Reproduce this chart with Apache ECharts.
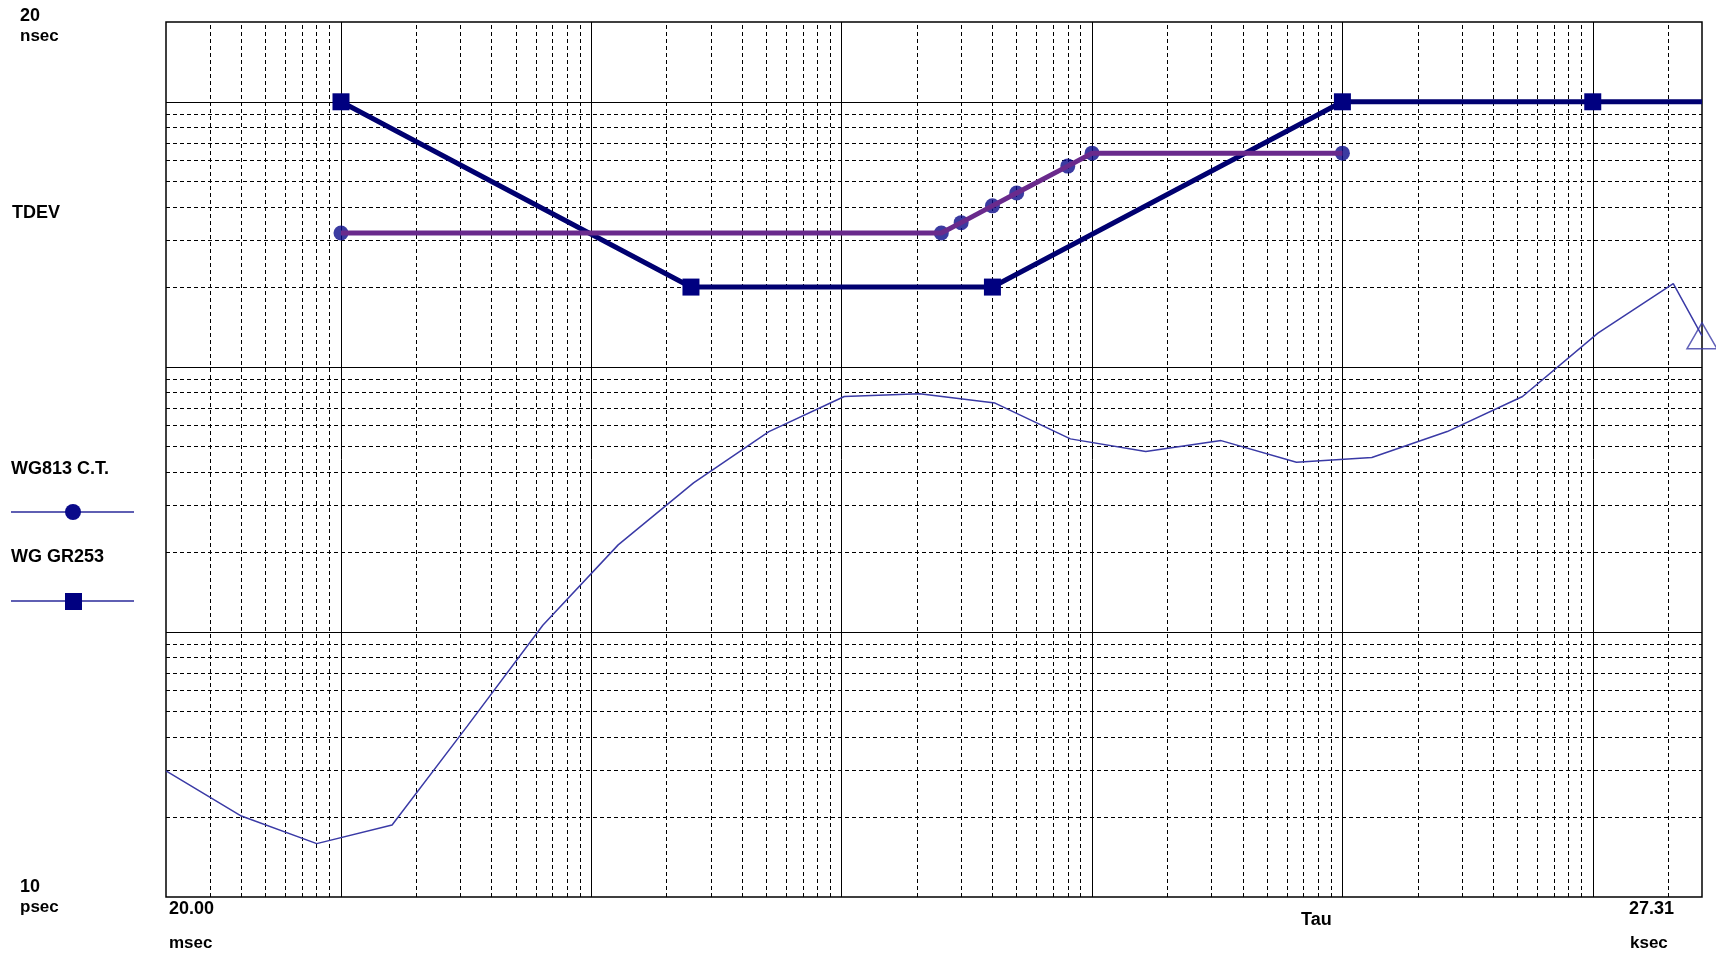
<!DOCTYPE html>
<html>
<head>
<meta charset="utf-8">
<script src="https://cdn.jsdelivr.net/npm/echarts@6/dist/echarts.min.js"></script>
<style>
  html, body { margin: 0; padding: 0; background: #fff; }
  #chart { width: 1716px; height: 954px; }
</style>
</head>
<body>
<div id="chart"></div>
<script>
// tau in seconds, TDEV in seconds
const measTau = [0.02, 0.04, 0.08, 0.16, 0.32, 0.64, 1.28, 2.56, 5.12, 10.24, 20.48,
  40.96, 81.92, 163.84, 327.68, 655.36, 1310.72, 2621.44, 5242.88, 10485.76, 20971.52, 27310];
const measTdev = [29.9e-12, 20.2e-12, 15.9e-12, 18.7e-12, 44.2e-12, 106e-12, 213e-12, 365e-12,
  570e-12, 773e-12, 791e-12, 730e-12, 535e-12, 479e-12, 527e-12, 437e-12, 455e-12,
  570e-12, 773e-12, 1.34e-9, 2.06e-9, 1.31e-9];

const g813Tau = [0.1, 25, 30, 40, 50, 80, 100, 1000];
const g813Tdev = [3.2e-9, 3.2e-9, 3.5e-9, 4.05e-9, 4.53e-9, 5.72e-9, 6.4e-9, 6.4e-9];

const gr253Tau = [0.1, 2.5, 40, 1000, 10000, 27310];
const gr253Tdev = [10e-9, 2e-9, 2e-9, 10e-9, 10e-9, 10e-9];

const xMin = 0.02, xMax = 27310;
const yMin = 1e-11, yMax = 2e-8;

const xMajor = [0.1, 1, 10, 100, 1000, 10000];
const yMajor = [1e-10, 1e-9, 1e-8];

// dashed minor lines at 2..9 of every decade inside the range
function minors(lo, hi) {
  const out = [];
  for (let e = Math.floor(Math.log10(lo)); e <= Math.ceil(Math.log10(hi)); e++) {
    for (let m = 2; m <= 9; m++) {
      const v = m * Math.pow(10, e);
      if (v > lo * 1.0001 && v < hi * 0.9999) out.push(+v.toPrecision(3));
    }
  }
  return out;
}
const xMinor = minors(xMin, xMax);
const yMinor = minors(yMin, yMax);

const zip = (a, b) => a.map((v, i) => [v, b[i]]);
const vLines = xs => xs.map(v => ({ coords: [[v, yMin], [v, yMax]] }));
const hLines = ys => ys.map(v => ({ coords: [[xMin, v], [xMax, v]] }));

const chart = echarts.init(document.getElementById('chart'));

const font = 'bold 18px "Liberation Sans", Arial, sans-serif';
const fontSmall = 'bold 17px "Liberation Sans", Arial, sans-serif';
function label(text, x, y, f) {
  return { type: 'text', x: x, y: y, style: { text: text, font: f || font, fill: '#000', textVerticalAlign: 'middle' } };
}

const gr253Data = zip(gr253Tau, gr253Tdev).map((p, i) =>
  i === gr253Tau.length - 1 ? { value: p, symbol: 'none' } : p);

chart.setOption({
  animation: false,
  grid: { left: 166, top: 22, width: 1536, height: 875, show: true, borderColor: '#000', borderWidth: 1.5 },
  xAxis: {
    type: 'log', logBase: 10, min: xMin, max: xMax,
    axisLine: { show: false }, axisTick: { show: false }, axisLabel: { show: false },
    splitLine: { show: false }
  },
  yAxis: {
    type: 'log', logBase: 10, min: yMin, max: yMax,
    axisLine: { show: false }, axisTick: { show: false }, axisLabel: { show: false },
    splitLine: { show: false }
  },
  series: [{
    name: 'minor grid',
    type: 'lines',
    coordinateSystem: 'cartesian2d',
    silent: true,
    z: 1,
    lineStyle: { color: '#000', width: 1, type: [4, 3], opacity: 1 },
    data: vLines(xMinor).concat(hLines(yMinor))
  }, {
    name: 'major grid',
    type: 'lines',
    coordinateSystem: 'cartesian2d',
    silent: true,
    z: 1,
    lineStyle: { color: '#000', width: 1, type: 'solid', opacity: 1 },
    data: vLines(xMajor).concat(hLines(yMajor))
  }, {
    name: 'measured',
    type: 'line',
    data: zip(measTau, measTdev),
    symbol: 'none',
    lineStyle: { color: '#3a3aa6', width: 1.5 },
    z: 3
  }, {
    name: 'measured end',
    type: 'scatter',
    data: [[measTau[measTau.length - 1], measTdev[measTdev.length - 1]]],
    symbol: 'triangle',
    symbolSize: [30, 26],
    clip: false,
    itemStyle: { color: 'rgba(0,0,0,0)', borderColor: '#3a3aa6', borderWidth: 1.5 },
    z: 3
  }, {
    name: 'WG GR253',
    type: 'line',
    data: gr253Data,
    symbol: 'rect',
    symbolSize: 17,
    lineStyle: { color: '#000070', width: 5 },
    itemStyle: { color: '#000080' },
    z: 4
  }, {
    name: 'WG813 C.T. marks',
    type: 'scatter',
    data: zip(g813Tau, g813Tdev),
    symbol: 'circle',
    symbolSize: 15,
    itemStyle: { color: '#0a0a8a' },
    z: 5
  }, {
    name: 'WG813 C.T.',
    type: 'line',
    data: zip(g813Tau, g813Tdev),
    symbol: 'none',
    lineStyle: { color: '#6a2a8c', width: 5 },
    z: 6
  }],
  graphic: [
    label('20', 20, 16),
    label('nsec', 20, 36, fontSmall),
    label('TDEV', 12, 213),
    label('WG813 C.T.', 11, 469),
    { type: 'line', shape: { x1: 11, y1: 512, x2: 134, y2: 512 }, style: { stroke: '#2a2a9a', lineWidth: 1.5 } },
    { type: 'circle', shape: { cx: 73, cy: 512, r: 8 }, style: { fill: '#0a0a8a' } },
    label('WG GR253', 11, 557),
    { type: 'line', shape: { x1: 11, y1: 601, x2: 134, y2: 601 }, style: { stroke: '#2a2a9a', lineWidth: 1.5 } },
    { type: 'rect', shape: { x: 65, y: 593, width: 17, height: 17 }, style: { fill: '#000080' } },
    label('10', 20, 887),
    label('psec', 20, 907, fontSmall),
    label('20.00', 169, 909),
    label('msec', 169, 943, fontSmall),
    label('Tau', 1301, 920),
    label('27.31', 1629, 909),
    label('ksec', 1630, 943, fontSmall)
  ]
});
</script>
</body>
</html>
